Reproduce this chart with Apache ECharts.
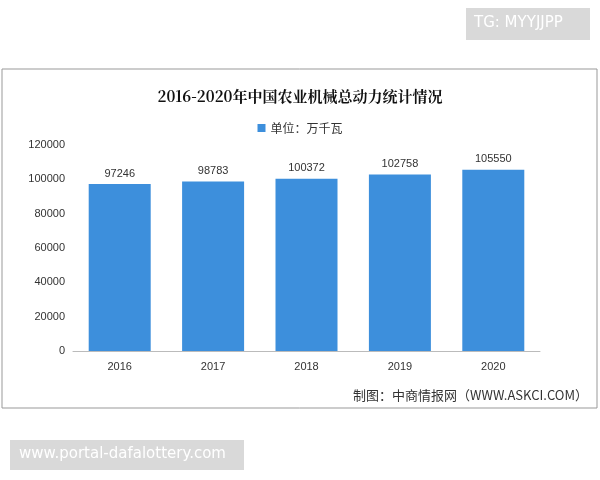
<!DOCTYPE html>
<html><head><meta charset="utf-8">
<script src="https://cdn.jsdelivr.net/npm/echarts@6/dist/echarts.min.js"></script>
<style>body{margin:0;background:#fff}#c{width:600px;height:480px}</style></head>
<body><div id="c"></div>
<script>
const categories=['2016','2017','2018','2019','2020'];
const values=[97246,98783,100372,102758,105550];
const chart=echarts.init(document.getElementById('c'));
chart.setOption({
 graphic:[
  {type:'rect',shape:{x:2,y:69,width:595,height:339},style:{fill:'#fff',stroke:'#999',lineWidth:1}},
  {type:'rect',shape:{x:466,y:8,width:124,height:32},style:{fill:'#d9d9d9'}},
  {type:'text',left:474,top:16,style:{text:'TG: MYYJJPP',fill:'#fff',font:'15px "DejaVu Sans"'}},
  {type:'rect',shape:{x:10,y:440,width:234,height:30},style:{fill:'#d9d9d9'}},
  {type:'text',left:19,top:447,style:{text:'www.portal-dafalottery.com',fill:'#fff',font:'15px "DejaVu Sans"'}},
  {type:'text',right:12,top:389,style:{text:'制图：中商情报网（WWW.ASKCI.COM）',fill:'#333',font:'13px "Noto Sans CJK SC"'}}
 ],
 title:{text:'2016-2020年中国农业机械总动力统计情况',left:'center',top:84,textStyle:{fontSize:15,fontWeight:'bold',color:'#111',fontFamily:'"Noto Serif CJK SC","Noto Sans CJK SC",serif'}},
 legend:{top:117,left:'center',itemWidth:8,itemHeight:8,icon:'rect',textStyle:{fontSize:12,color:'#333',fontFamily:'"Noto Sans CJK SC"'},data:['单位：万千瓦']},
 grid:{left:73,right:60,top:145,bottom:129},
 xAxis:{type:'category',data:categories,axisTick:{show:false},axisLine:{lineStyle:{color:'#bbb'}},axisLabel:{color:'#333',fontSize:11,margin:10}},
 yAxis:{type:'value',min:0,max:120000,interval:20000,splitLine:{show:false},axisLine:{show:false},axisTick:{show:false},axisLabel:{color:'#333',fontSize:11,formatter:v=>String(v)}},
 series:[{name:'单位：万千瓦',type:'bar',data:values,barWidth:62,itemStyle:{color:'#3d8fdc'},label:{show:true,position:'top',color:'#333',fontSize:11}}]
});
</script></body></html>
